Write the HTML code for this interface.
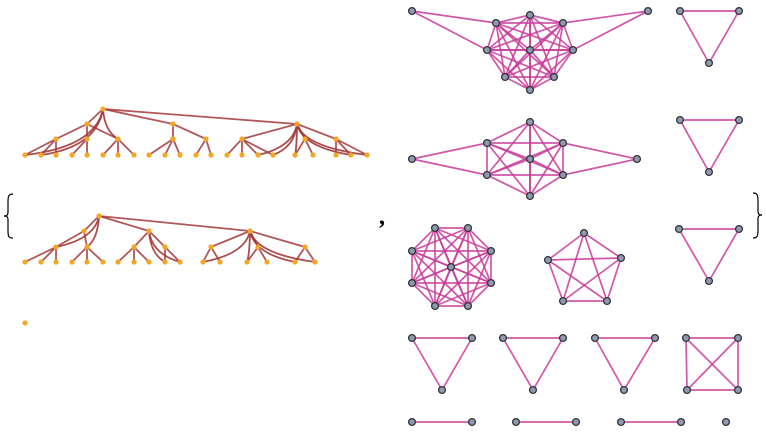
<!DOCTYPE html>
<html><head><meta charset="utf-8"><style>
html,body{margin:0;padding:0;background:#fff;width:766px;height:434px;overflow:hidden}
svg{display:block}
</style></head><body>
<svg id="s" width="766" height="434" xmlns="http://www.w3.org/2000/svg">
<path d="M13,194 C8,194 8,197 8,203 L8,212 C8,215 7,216 4,216 C7,216 8,217 8,220 L8,230 C8,236 8,238 13,238" fill="none" stroke="#000" stroke-width="1.2"/>
<path d="M753,193 C758,193 758,196 758,202 L758,211 C758,214 759,215 762,215 C759,215 758,216 758,219 L758,229 C758,235 758,238 753,238" fill="none" stroke="#000" stroke-width="1.2"/>
<text x="379" y="224" font-family="Liberation Serif, serif" font-size="24" font-weight="bold">,</text>
<g id="e"></g><g id="n"></g>
</svg>
<script>
var E=document.getElementById('e'),N=document.getElementById('n'),ns='http://www.w3.org/2000/svg';
function el(p,t,a){var x=document.createElementNS(ns,t);for(var k in a)x.setAttribute(k,a[k]);p.appendChild(x);}
function ln(a,b,c,w){el(E,'line',{x1:a[0],y1:a[1],x2:b[0],y2:b[1],stroke:c,'stroke-width':w,'stroke-opacity':0.85});}
function cv(a,b){el(E,'path',{d:'M'+a[0]+','+a[1]+' Q'+(a[0]+(b[0]-a[0])*0.1)+','+(b[1]-8)+' '+b[0]+','+b[1],fill:'none',stroke:'#a33a3a','stroke-width':1.8,'stroke-opacity':0.9});}
function gnode(p){el(N,'circle',{cx:p[0],cy:p[1],r:3.4,fill:'#8d9ab4',stroke:'#333','stroke-width':1.3});}
function tnode(p){el(N,'circle',{cx:p[0],cy:p[1],r:2.6,fill:'#f5a623'});}
var PK='#c8399a';
function K(pts){for(var i=0;i<pts.length;i++)for(var j=i+1;j<pts.length;j++)ln(pts[i],pts[j],PK,1.7);pts.forEach(gnode);}
var in1=[[496,23],[530,15],[563,23],[487,50],[530,50],[573,50],[505,77],[554,77],[530,90]];
var o1=[[412,11],[648,11]];
ln(o1[0],in1[0],PK,1.7);ln(o1[0],in1[3],PK,1.7);ln(o1[1],in1[2],PK,1.7);ln(o1[1],in1[5],PK,1.7);
K(in1);o1.forEach(gnode);
var in2=[[530,122],[487,143],[563,143],[530,159],[487,175],[563,175],[530,196]];
var o2=[[412,159],[637,159]];
ln(o2[0],in2[1],PK,1.7);ln(o2[0],in2[4],PK,1.7);ln(o2[1],in2[2],PK,1.7);ln(o2[1],in2[5],PK,1.7);
K(in2);o2.forEach(gnode);
K([[435,228],[468,228],[412,251],[491,251],[412,283],[491,283],[435,306],[468,306],[451,267]]);
K([[584,233],[548,260],[621,258],[563,301],[607,301]]);
[[680,11,739,11,709,63],[680,120,739,120,709,172],[679,229,739,229,709,281],[412,338,472,338,442,390],[503,338,563,338,533,390],[595,338,655,338,624,390]].forEach(function(t){K([[t[0],t[1]],[t[2],t[3]],[t[4],t[5]]]);});
K([[686,338],[738,338],[687,390],[738,390]]);
K([[412,422],[472,422]]);K([[516,422],[576,422]]);K([[621,422],[681,422]]);gnode([726,422]);
function tree(root,L1,L2,leaves,l2p,extra){
  var R='#a33a3a';
  L1.forEach(function(p){ln(root,p,R,1.8)});
  L2.forEach(function(p,i){ln(L1[l2p[i]],p,R,1.8)});
  leaves.forEach(function(p){var best=0,bd=1e9;L2.forEach(function(q,i){var d=Math.abs(q[0]-p[0]);if(d<bd){bd=d;best=i}});ln(L2[best],p,R,1.8);});
  extra.forEach(function(e){cv(e[0],e[1])});
  [root].concat(L1,L2,leaves).forEach(tnode);
}
var lv1=[25,41,56,72,87,103,118,134,149,165,180,196,211,227,242,258,273,295,313,336,351,367].map(function(x){return [x,155]});
var r1=[103,109],L11=[[87,124],[173,124],[297,124]];
var L21=[[56,139],[87,139],[118,139],[173,139],[206,139],[242,139],[305,139],[336,139]];
tree(r1,L11,L21,lv1,[0,0,0,1,1,2,2,2],[[r1,[25,155]],[r1,[41,155]],[r1,[118,139]],[[297,124],[273,155]],[[297,124],[295,155]],[[297,124],[367,155]],[[297,124],[351,155]],[[297,124],[258,155]]]);
var lv2=[25,41,56,72,87,103,118,134,149,165,180,203,220,247,267,295,315].map(function(x){return [x,262]});
var r2=[99,216],L12=[[84,231],[149,231],[250,231]];
var L22=[[56,247],[87,247],[134,247],[165,247],[211,247],[258,247],[305,247]];
tree(r2,L12,L22,lv2,[0,0,1,1,2,2,2],[[r2,[56,247]],[r2,[87,247]],[[149,231],[165,262]],[[149,231],[180,262]],[[250,231],[203,262]],[[250,231],[247,262]],[[250,231],[295,262]],[[250,231],[315,262]]]);
tnode([25,323]);
</script>
</body></html>
